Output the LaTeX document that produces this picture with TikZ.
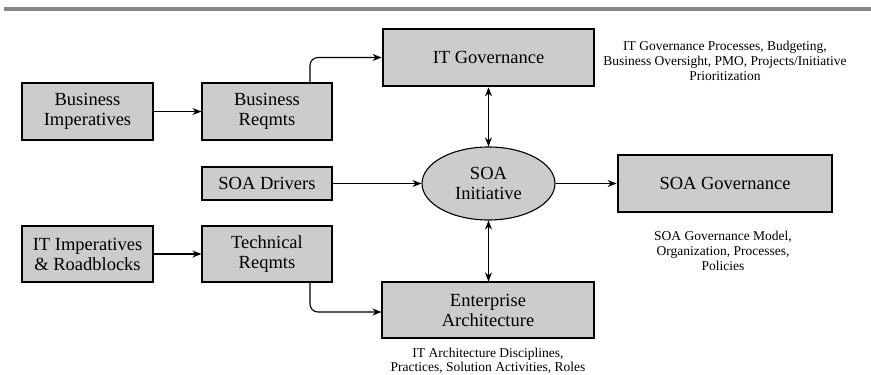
\documentclass[tikz,border=0pt]{standalone}
\usepackage{fontspec}
\setmainfont{Liberation Serif}
\usetikzlibrary{arrows.meta,shapes.geometric}
\definecolor{boxgray}{HTML}{CCCCCC}
\definecolor{rulegray}{HTML}{888888}
\tikzset{
  box/.style={draw=black, line width=1.1pt, fill=boxgray, align=center,
    inner sep=0pt, font=\fontsize{18.5}{20}\selectfont},
  govbox/.style={box, line width=2.8pt},
  oval/.style={ellipse, draw=black, line width=1.1pt, fill=boxgray, align=center,
    inner sep=0pt, font=\fontsize{18.5}{20}\selectfont},
  note/.style={align=center, inner sep=0pt, font=\fontsize{13.5}{14.8}\selectfont},
  arr/.style={-{Stealth[length=9pt,width=7pt]}, line width=1.1pt},
  darr/.style={{Stealth[length=9pt,width=7pt]}-{Stealth[length=9pt,width=7pt]}, line width=1.1pt},
}
\begin{document}
\begin{tikzpicture}[x=1pt,y=-1pt]
  \useasboundingbox (0,0) rectangle (871,375);
  % heading rule
  \fill[rulegray] (4,7) rectangle (871,11);

  % left column
  \node[box, minimum width=131, minimum height=57] (bi) at (87.5,111.5) {Business\\Imperatives};
  \node[box, minimum width=131, minimum height=56] (iti) at (87.5,254) {IT Imperatives\\\& Roadblocks};

  % requirement boxes
  \node[box, minimum width=130, minimum height=57] (br) at (267,111.5) {Business\\Reqmts};
  \node[box, minimum width=130, minimum height=33] (drv) at (267,183.5) {SOA Drivers};
  \node[box, minimum width=130, minimum height=56] (tr) at (267,254) {Technical\\Reqmts};

  % centre column
  \node[govbox, minimum width=211, minimum height=57] (itg) at (488.5,57.5) {IT Governance};
  \node[oval, minimum width=133, minimum height=73] (soa) at (488.5,183.5) {SOA\\Initiative};
  \node[box, minimum width=212, minimum height=56] (ea) at (488,310) {Enterprise\\Architecture};

  % right
  \node[govbox, minimum width=214, minimum height=57] (soag) at (725,183.5) {SOA Governance};

  % notes
  \node[note] (itgnote) at (725,61) {IT Governance Processes, Budgeting,\\Business Oversight, PMO, Projects/Initiative\\Prioritization};
  \node[note] (soagnote) at (723,251) {SOA Governance Model,\\Organization, Processes,\\Policies};
  \node[note, font=\fontsize{13.5}{13.5}\selectfont] (eanote) at (488,361) {IT Architecture Disciplines,\\Practices, Solution Activities, Roles};

  % connectors
  \draw[arr] (bi) -- (br);
  \draw[arr] (iti) -- (tr);
  \draw[arr] (drv) -- (soa);
  \draw[arr] (soa) -- (soag);
  \draw[arr, rounded corners=8pt] ([xshift=43pt]br.north) |- (itg.west);
  \draw[arr, rounded corners=8pt] ([xshift=43pt]tr.south) |- ([yshift=-2pt]ea.west);
  \draw[darr] (itg.south) -- (soa.north);
  \draw[darr] (soa.south) -- (soa.south |- ea.north);
\end{tikzpicture}
\end{document}
